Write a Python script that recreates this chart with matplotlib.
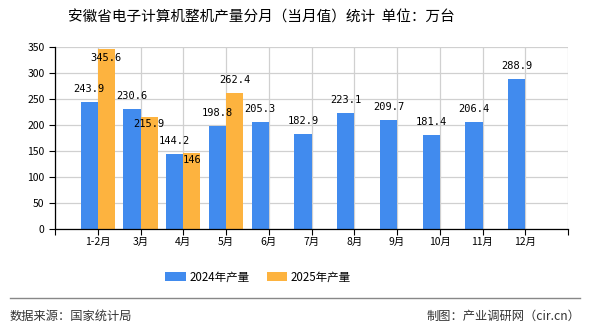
#!/bin/env python3
'''
Anhui computer output by month, 2024 vs 2025
'''
import matplotlib
matplotlib.use('Agg')
import matplotlib.pyplot as plt
import numpy as np

plt.rcParams['font.family'] = ['Noto Sans CJK SC', 'DejaVu Sans']

months = ['1-2月', '3月', '4月', '5月', '6月', '7月', '8月', '9月', '10月', '11月', '12月']
vals_2024 = [243.9, 230.6, 144.2, 198.8, 205.3, 182.9, 223.1, 209.7, 181.4, 206.4, 288.9]
vals_2025 = [345.6, 215.9, 146, 262.4]
labels_2024 = ['243.9', '230.6', '144.2', '198.8', '205.3', '182.9', '223.1', '209.7', '181.4', '206.4', '288.9']
labels_2025 = ['345.6', '215.9', '146', '262.4']

blue = '#418bee'
orange = '#fdb33f'

# label offsets in pixels (the original chart pushed some labels into the bars)
off_2024 = [13] * len(vals_2024)
off_2025 = [-9, -7, -7, 13]

fig = plt.figure(figsize=(5.9, 3.3), dpi=100)
ax = fig.add_axes([55/590, 1 - 229/330, 513/590, 182/330])

x = np.arange(len(months))
w = 0.4
b1 = ax.bar(x[:len(vals_2024)] - w/2, vals_2024, w, color=blue, label='2024年产量', zorder=2)
b2 = ax.bar(x[:len(vals_2025)] + w/2, vals_2025, w, color=orange, label='2025年产量', zorder=2)

for bars, labs, offs in ((b1, labels_2024, off_2024), (b2, labels_2025, off_2025)):
    for r, t, o in zip(bars, labs, offs):
        ax.annotate(t, (r.get_x() + r.get_width()/2, r.get_height()),
                    xytext=(0, o), textcoords='offset pixels', ha='center', va='center',
                    fontsize=7.5, family='DejaVu Sans Mono', zorder=3)

ax.set_xlim(-1, len(months))
ax.set_ylim(0, 350)
ax.set_yticks(np.arange(0, 351, 50))
ax.set_xticks(np.arange(-1, len(months) + 1))
ax.set_xticklabels([''] + months + [''])
ax.tick_params(axis='both', labelsize=7.5, length=4, width=0.8, color='black')
ax.tick_params(axis='x', pad=2)
ax.grid(True, color='#d0d0d0', linewidth=0.9, zorder=0)
for s in ('top', 'right'):
    ax.spines[s].set_visible(False)
for s in ('left', 'bottom'):
    ax.spines[s].set_linewidth(0.9)

fig.text(261/590, 1 - 18/330, '安徽省电子计算机整机产量分月（当月值）统计  单位：万台',
         ha='center', va='center', fontsize=10.5)

fig.legend(handles=[b1, b2], loc='center', bbox_to_anchor=(258/590, 1 - 277/330), ncol=2,
           frameon=False, fontsize=8.3, handlelength=1.8, handleheight=0.8,
           columnspacing=1.5, handletextpad=0.3)

fig.add_artist(plt.Line2D([10/590, 580/590], [1 - 298/330, 1 - 298/330],
                          color='#888888', linewidth=1.0))
fig.text(10/590, 1 - 316/330, '数据来源：国家统计局', ha='left', va='center',
         fontsize=8.8, color='#333333')
fig.text(580/590, 1 - 316/330, '制图：产业调研网（cir.cn）', ha='right', va='center',
         fontsize=8.8, color='#333333')

fig.savefig('out.png', dpi=100)
